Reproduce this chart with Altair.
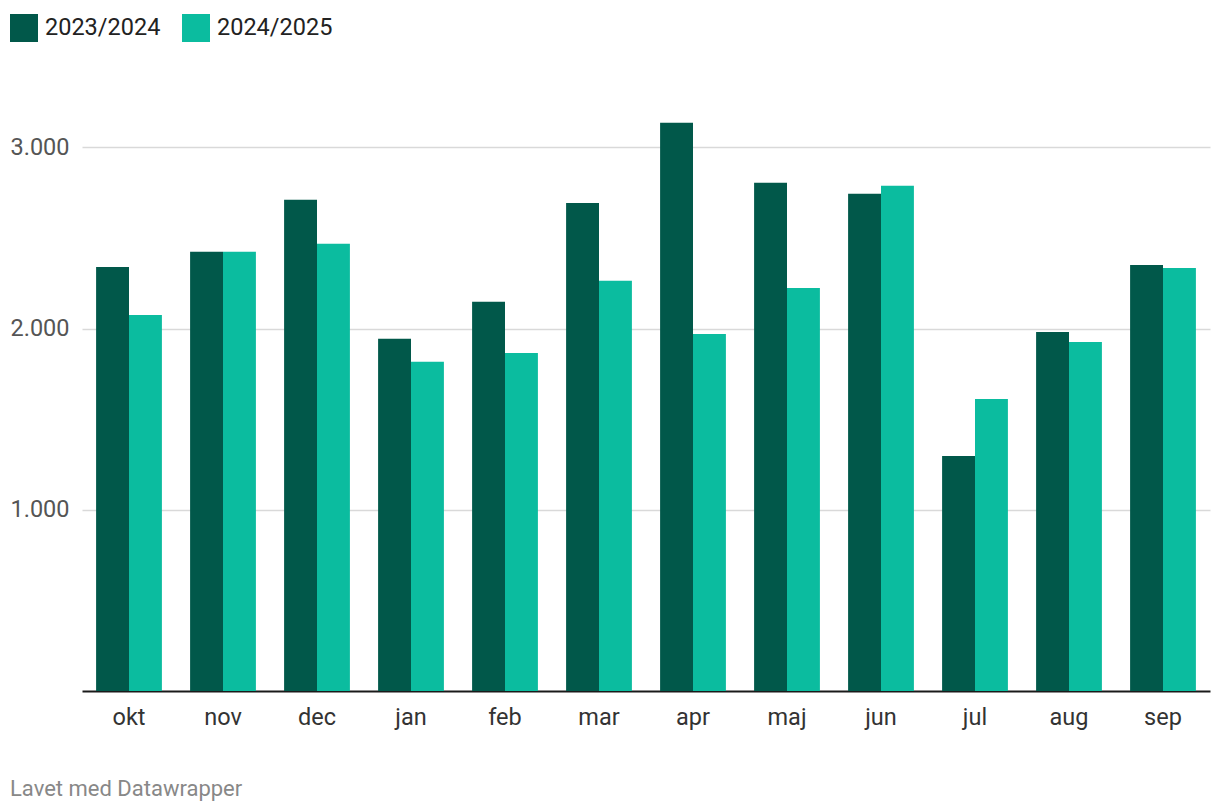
import altair as alt
import pandas as pd

months = ["okt", "nov", "dec", "jan", "feb", "mar", "apr", "maj", "jun", "jul", "aug", "sep"]
series = ["2023/2024", "2024/2025"]
values_2324 = [2340, 2423, 2710, 1943, 2147, 2693, 3135, 2804, 2743, 1297, 1981, 2351]
values_2425 = [2075, 2423, 2467, 1816, 1865, 2263, 1970, 2224, 2787, 1611, 1926, 2334]
y_ticks = [1000, 2000, 3000]
footer = "Lavet med Datawrapper"
colors = ["#01584a", "#0bbc9f"]

rows = []
for m, a, b in zip(months, values_2324, values_2425):
    rows.append({"month": m, "season": series[0], "value": a})
    rows.append({"month": m, "season": series[1], "value": b})
df = pd.DataFrame(rows)

FONT = "Roboto"
FS = 23.5

bars = alt.Chart(df).mark_bar(strokeWidth=0).encode(
    x=alt.X("month:N", sort=months, title=None,
            scale=alt.Scale(paddingInner=0.3, paddingOuter=0.15),
            axis=alt.Axis(labelAngle=0, labelFontSize=FS, labelColor="#333333", labelFont=FONT,
                          ticks=False, domain=True, domainColor="#1a1a1a", domainWidth=2,
                          labelPadding=14, grid=False)),
    xOffset=alt.XOffset("season:N", sort=series),
    y=alt.Y("value:Q", title=None,
            scale=alt.Scale(domain=[0, 3200], nice=False, zero=True),
            axis=alt.Axis(values=y_ticks, grid=True, gridColor="#d9d9d9", gridWidth=1.5,
                          domain=False, ticks=False, labelAlign="left", labelPadding=72,
                          labelFontSize=FS, labelColor="#555555", labelFont=FONT,
                          labelExpr="replace(format(datum.value, ','), ',', '.')")),
    color=alt.Color("season:N", sort=series, title=None,
                    scale=alt.Scale(domain=series, range=colors),
                    legend=alt.Legend(orient="none", legendX=-72, legendY=-97, direction="horizontal",
                                      symbolType="square", symbolSize=784, symbolStrokeWidth=0,
                                      symbolOpacity=1, labelFontSize=FS, labelColor="#222222",
                                      labelFont=FONT, labelOffset=7, columnPadding=21, padding=0)),
)

foot = alt.Chart(pd.DataFrame({"t": [footer]})).mark_text(
    align="left", baseline="middle", fontSize=22, font=FONT, color="#888888"
).encode(text="t:N", x=alt.value(-72), y=alt.value(678))

chart = alt.layer(bars, foot).properties(
    width=1128, height=580,
    background="white",
    autosize=alt.AutoSizeParams(type="none"),
    padding={"left": 74, "top": 103, "right": 2, "bottom": 110},
).configure_view(stroke="transparent", strokeWidth=0)

chart.save("out.html", embed_options={"renderer": "svg", "actions": False})
